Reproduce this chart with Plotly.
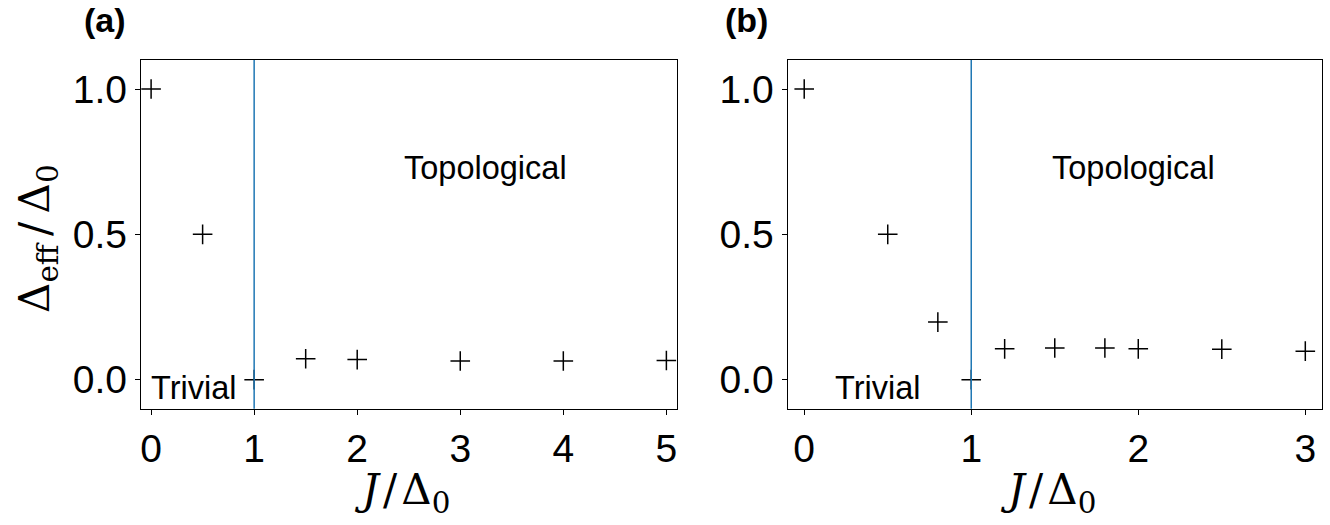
import plotly.graph_objects as go

# Data panel (a)
xa = [0, 0.5, 1, 1.5, 2, 3, 4, 5]
ya = [1.0, 0.5, 0.0, 0.072, 0.069, 0.064, 0.064, 0.066]
# Data panel (b)
xb = [0, 0.5, 0.8, 1, 1.2, 1.5, 1.8, 2, 2.5, 3]
yb = [1.0, 0.5, 0.198, 0.0, 0.106, 0.109, 0.109, 0.106, 0.105, 0.098]

xticks_a = [0, 1, 2, 3, 4, 5]
xticks_b = [0, 1, 2, 3]
yticks = [0.0, 0.5, 1.0]
yticklabels = ["0.0", "0.5", "1.0"]

W, H = 1330, 525
FONT = "Liberation Sans, Arial, sans-serif"
MATH = "DejaVu Serif, Liberation Serif, serif"

fig = go.Figure()
marker = dict(symbol="cross-thin", size=14, line=dict(width=1.5, color="black"), color="black")
fig.add_trace(go.Scatter(x=xa, y=ya, mode="markers", marker=marker, xaxis="x", yaxis="y", showlegend=False))
fig.add_trace(go.Scatter(x=xb, y=yb, mode="markers", marker=marker, xaxis="x2", yaxis="y2", showlegend=False))

axis_common = dict(showgrid=False, zeroline=False, showline=True, linecolor="black", linewidth=1,
                   mirror=True, ticks="outside", ticklen=5, tickwidth=1, tickcolor="black",
                   tickfont=dict(family=FONT, size=39, color="black"))

yd = [1 - 408.7 / H, 1 - 60 / H]
fig.update_layout(
    width=W, height=H, margin=dict(l=0, r=0, t=0, b=0),
    plot_bgcolor="white", paper_bgcolor="white",
    xaxis=dict(domain=[140 / W, 676.7 / W], range=[-0.1, 5.1], tickvals=xticks_a,
               ticktext=[str(v) for v in xticks_a], anchor="y", **axis_common),
    yaxis=dict(domain=yd, range=[-0.1, 1.1], tickvals=yticks, ticktext=yticklabels, anchor="x", **axis_common),
    xaxis2=dict(domain=[787.7 / W, 1323 / W], range=[-0.1, 3.1], tickvals=xticks_b,
                ticktext=[str(v) for v in xticks_b], anchor="y2", **axis_common),
    yaxis2=dict(domain=yd, range=[-0.1, 1.1], tickvals=yticks, ticktext=yticklabels, anchor="x2", **axis_common),
)

for xr in ["x", "x2"]:
    yr = "y" if xr == "x" else "y2"
    fig.add_shape(type="line", xref=xr, yref=yr + " domain", x0=1, x1=1, y0=0, y1=1,
                  line=dict(color="#1f77b4", width=1.5))

ann = []
# region labels
for xr, yr, tx, ty, text in [("x", "y", 2.43, 0.73, "Topological"), ("x", "y", -0.02, -0.03, "Trivial"),
                              ("x2", "y2", 1.47, 0.73, "Topological"), ("x2", "y2", 0.17, -0.03, "Trivial")]:
    ann.append(dict(x=tx, y=ty, xref=xr, yref=yr, text=text, showarrow=False, xanchor="left", yanchor="middle",
                    font=dict(family=FONT, size=32.5, color="black")))
# panel labels
ann.append(dict(x=104 / W, y=1 - 20 / H, xref="paper", yref="paper", text="<b>(a)</b>", showarrow=False,
                xanchor="center", yanchor="middle", font=dict(family=FONT, size=34, color="black")))
ann.append(dict(x=747 / W, y=1 - 20 / H, xref="paper", yref="paper", text="<b>(b)</b>", showarrow=False,
                xanchor="center", yanchor="middle", font=dict(family=FONT, size=34, color="black")))
# axis titles
xlab = "<i>J</i>\u200a/\u200aΔ<sub>0</sub>"
ann.append(dict(x=402 / W, y=1 - 492 / H, xref="paper", yref="paper", text=xlab, showarrow=False,
                xanchor="center", yanchor="middle", font=dict(family=MATH, size=42, color="black")))
ann.append(dict(x=1049 / W, y=1 - 492 / H, xref="paper", yref="paper", text=xlab, showarrow=False,
                xanchor="center", yanchor="middle", font=dict(family=MATH, size=42, color="black")))
ann.append(dict(x=36 / W, y=1 - 238 / H, xref="paper", yref="paper",
                text="Δ<sub>eff</sub>\u2009/\u2009Δ<sub>0</sub>",
                showarrow=False, textangle=-90, xanchor="center", yanchor="middle",
                font=dict(family=MATH, size=42, color="black")))
fig.update_layout(annotations=ann)

fig.write_html("out.html")
